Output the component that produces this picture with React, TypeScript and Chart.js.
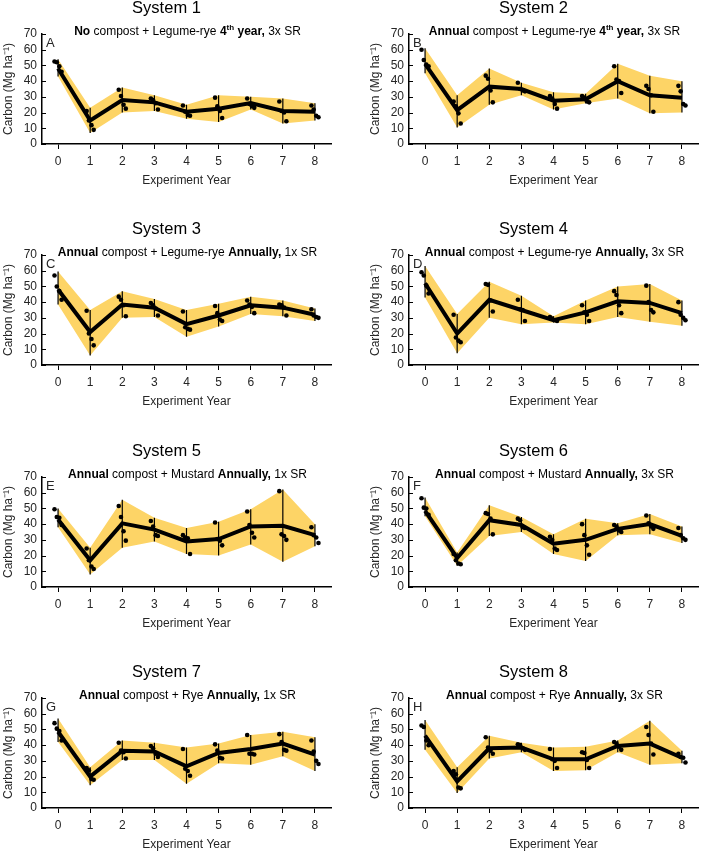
import React, { useEffect, useRef } from "react";
import { Chart, registerables } from "chart.js";

Chart.register(...registerables);

const FONT = "'Liberation Sans', Arial, sans-serif";
const TXT = "#262626";
const BAND = "#FDD466";

const YEARS = [0, 1, 2, 3, 4, 5, 6, 7, 8];
const Y_TICKS = [0, 10, 20, 30, 40, 50, 60, 70];
const JITTER = [-0.11, -0.04, 0.04, 0.11];

// System 1
const MEAN_S1 = [48, 15, 28, 26.5, 20.5, 22.5, 26, 21, 20.5];
const LOW_S1 = [43, 7, 20, 21, 16, 14, 22, 13, 15];
const HIGH_S1 = [54, 23, 36, 31, 25, 31, 30, 29, 26];
const REPS_S1 = [[52.5, 52, 49.5, 46], [21, 15, 12, 9], [34.5, 30.5, 25, 22.5], [29, 28, 26, 22], [24.5, 20.5, 18.5, 18], [29.5, 24, 21, 16.5], [29, 25.5, 24, 23], [27, 21, 20, 14.5], [24.5, 22, 18, 17]];

// System 2
const MEAN_S2 = [51, 21.5, 36.5, 35, 27.5, 28.5, 40, 31, 29.5];
const LOW_S2 = [45, 10.5, 25, 31, 22, 26, 29, 19.5, 20];
const HIGH_S2 = [61, 31, 48, 39, 33, 32, 51, 43.5, 40];
const REPS_S2 = [[60, 53.5, 50.5, 49.5], [27, 24, 19.5, 13], [43.5, 41.5, 34, 26.5], [39, 35, 34, 33.5], [30.5, 29, 25.5, 22.5], [30.5, 29.5, 27, 26.5], [49.5, 41, 40, 32.5], [37, 35, 31, 20.5], [37, 33.5, 25.5, 24.5]];

// System 3
const MEAN_S3 = [48, 21, 38.5, 36.5, 26, 31.5, 38, 36.5, 32];
const LOW_S3 = [38.5, 6, 30, 30.5, 18, 24.5, 32.5, 31, 28];
const HIGH_S3 = [59.5, 35, 47, 42, 35, 39, 43.5, 41, 36];
const REPS_S3 = [[57, 50, 47, 41.5], [34.5, 20, 16.5, 12.5], [43.5, 41.5, 38, 31], [39.5, 38, 36, 31.5], [34, 24, 23, 22.5], [37.5, 33, 29, 28], [41, 38.5, 37, 33], [38.5, 38, 36.5, 31.5], [35.5, 31.5, 30.5, 30]];

// System 4
const MEAN_S4 = [52, 20, 41.5, 35, 28.5, 33.5, 40.5, 39.5, 33];
const LOW_S4 = [43, 7.5, 30, 26, 27, 26, 30.5, 27.5, 25];
const HIGH_S4 = [63, 32.5, 53, 44, 31, 41, 50, 51.5, 41];
const REPS_S4 = [[59, 57, 50.5, 45.5], [32, 17.5, 15.5, 14.5], [51.5, 51, 41, 34], [41.5, 35.5, 35, 28], [30.5, 29.5, 28.5, 28], [38, 33.5, 32, 28], [47, 44.5, 38, 33], [50.5, 40, 35, 33.5], [40, 32, 30, 28.5]];

// System 5
const MEAN_S5 = [43, 17, 40.5, 36.5, 29, 30.5, 38.5, 39, 33];
const LOW_S5 = [38, 8, 25, 29, 21, 20, 27, 16, 26];
const HIGH_S5 = [50, 25, 55.5, 44, 37.5, 41.5, 49.5, 62, 40];
const REPS_S5 = [[49.5, 44.5, 44, 39.5], [24.5, 17, 13, 11.5], [51.5, 44.5, 35.5, 29.5], [42, 38.5, 33, 32.5], [33, 31.5, 31, 21], [41, 30.5, 29.5, 26.5], [48, 39.5, 34.5, 31.5], [61, 33.5, 32.5, 30], [38, 33, 31.5, 28]];

// System 6
const MEAN_S6 = [48.5, 18.5, 42.5, 39.5, 27.5, 30, 37, 40, 32.5];
const LOW_S6 = [45, 13.5, 32.5, 35, 21, 16.5, 33, 33.5, 28];
const HIGH_S6 = [57, 22, 52, 44.5, 33.5, 43.5, 40.5, 46.5, 38.5];
const REPS_S6 = [[56.5, 50.5, 50, 46], [21, 17, 15, 14.5], [47, 46.5, 43.5, 33.5], [43.5, 42.5, 38, 37.5], [32, 30, 24.5, 23.5], [40, 33, 26.5, 20.5], [39.5, 38.5, 36, 35], [45.5, 40.5, 38.5, 37], [37.5, 33, 31, 30]];

// System 7
const MEAN_S7 = [48.5, 20, 36.5, 36, 26.5, 35, 37.5, 41, 34];
const LOW_S7 = [42, 14.5, 30.5, 30.5, 15.5, 28.5, 27.5, 33, 23.5];
const HIGH_S7 = [57, 26, 43, 41.5, 38.5, 41, 46.5, 48.5, 45];
const REPS_S7 = [[54, 50.5, 49, 43], [25.5, 24, 18.5, 18], [41.5, 36.5, 35.5, 31.5], [39.5, 38, 34.5, 32.5], [37.5, 25, 23.5, 20.5], [40.5, 36.5, 32, 31.5], [46.5, 34.5, 34.5, 34], [47, 42, 37, 36.5], [43, 36, 30, 28]];

// System 8
const MEAN_S8 = [46, 17, 38, 38.5, 31, 31, 39.5, 41, 32];
const LOW_S8 = [37, 9.5, 31.5, 35.5, 23.5, 24, 35.5, 27.5, 28.5];
const HIGH_S8 = [56, 26, 46, 41.5, 38.5, 39, 43, 55.5, 36.5];
const REPS_S8 = [[52.5, 51.5, 43, 40], [23.5, 21.5, 13, 12.5], [45, 38.5, 36.5, 34.5], [40.5, 40, 38, 37], [37.5, 31, 30, 25.5], [35.5, 35, 30.5, 25.5], [42, 41, 39, 37], [51.5, 46.5, 41, 34], [34.5, 32.5, 32, 29]];

const TITLES = ["System 1", "System 2", "System 3", "System 4", "System 5", "System 6", "System 7", "System 8"];
const LETTERS = ["A", "B", "C", "D", "E", "F", "G", "H"];

type Seg = { t: string; b?: boolean; sup?: boolean };
const SUB_S1: Seg[] = [{ t: "No", b: true }, { t: " compost + Legume-rye " }, { t: "4", b: true }, { t: "th", b: true, sup: true }, { t: " year,", b: true }, { t: " 3x SR" }];
const SUB_S2: Seg[] = [{ t: "Annual", b: true }, { t: " compost + Legume-rye " }, { t: "4", b: true }, { t: "th", b: true, sup: true }, { t: " year,", b: true }, { t: " 3x SR" }];
const SUB_S3: Seg[] = [{ t: "Annual", b: true }, { t: " compost + Legume-rye " }, { t: "Annually,", b: true }, { t: " 1x SR" }];
const SUB_S4: Seg[] = [{ t: "Annual", b: true }, { t: " compost + Legume-rye " }, { t: "Annually,", b: true }, { t: " 3x SR" }];
const SUB_S5: Seg[] = [{ t: "Annual", b: true }, { t: " compost + Mustard " }, { t: "Annually,", b: true }, { t: " 1x SR" }];
const SUB_S6: Seg[] = [{ t: "Annual", b: true }, { t: " compost + Mustard " }, { t: "Annually,", b: true }, { t: " 3x SR" }];
const SUB_S7: Seg[] = [{ t: "Annual", b: true }, { t: " compost + Rye " }, { t: "Annually,", b: true }, { t: " 1x SR" }];
const SUB_S8: Seg[] = [{ t: "Annual", b: true }, { t: " compost + Rye " }, { t: "Annually,", b: true }, { t: " 3x SR" }];

const SYSTEMS = [
  { mean: MEAN_S1, lo: LOW_S1, hi: HIGH_S1, reps: REPS_S1, sub: SUB_S1 },
  { mean: MEAN_S2, lo: LOW_S2, hi: HIGH_S2, reps: REPS_S2, sub: SUB_S2 },
  { mean: MEAN_S3, lo: LOW_S3, hi: HIGH_S3, reps: REPS_S3, sub: SUB_S3 },
  { mean: MEAN_S4, lo: LOW_S4, hi: HIGH_S4, reps: REPS_S4, sub: SUB_S4 },
  { mean: MEAN_S5, lo: LOW_S5, hi: HIGH_S5, reps: REPS_S5, sub: SUB_S5 },
  { mean: MEAN_S6, lo: LOW_S6, hi: HIGH_S6, reps: REPS_S6, sub: SUB_S6 },
  { mean: MEAN_S7, lo: LOW_S7, hi: HIGH_S7, reps: REPS_S7, sub: SUB_S7 },
  { mean: MEAN_S8, lo: LOW_S8, hi: HIGH_S8, reps: REPS_S8, sub: SUB_S8 },
];

// layout
const PLOT_TOPS = [34, 255, 477, 698];
const COL_LEFT = [0, 367];
const PAD_TOP = 34;
const CW = 335;
const CH = 188;
const Y_AXIS_W = 42;

const inwardTicks = {
  id: "inwardTicks",
  afterDatasetsDraw(chart: any) {
    const { ctx, scales, chartArea } = chart;
    const y = scales.y;
    ctx.save();
    ctx.strokeStyle = "#000";
    ctx.lineWidth = 1;
    Y_TICKS.forEach((v) => {
      const py = Math.round(y.getPixelForValue(v)) + 0.5;
      ctx.beginPath();
      ctx.moveTo(chartArea.left, py);
      ctx.lineTo(chartArea.left + 4, py);
      ctx.stroke();
    });
    ctx.restore();
  },
};

function Panel({ idx }: { idx: number }) {
  const ref = useRef<HTMLCanvasElement>(null);
  const s = SYSTEMS[idx];
  const row = Math.floor(idx / 2);
  const col = idx % 2;

  useEffect(() => {
    if (!ref.current) return;
    const errData: any[] = [];
    YEARS.forEach((yr, i) => {
      errData.push({ x: yr, y: s.lo[i] }, { x: yr, y: s.hi[i] }, { x: yr, y: null });
    });
    const dots: any[] = [];
    YEARS.forEach((yr, i) => s.reps[i].forEach((v, j) => dots.push({ x: yr + JITTER[j], y: v })));
    const chart = new Chart(ref.current, {
      type: "line",
      data: {
        datasets: [
          { data: YEARS.map((x, i) => ({ x, y: s.lo[i] })), borderWidth: 0, borderColor: "rgba(0,0,0,0)", pointRadius: 0, fill: false, order: 5 },
          { data: YEARS.map((x, i) => ({ x, y: s.hi[i] })), borderWidth: 0, borderColor: "rgba(0,0,0,0)", pointRadius: 0, fill: "-1", backgroundColor: BAND, order: 4 },
          { data: errData, borderColor: "#000", borderWidth: 1.2, pointRadius: 0, spanGaps: false, fill: false, order: 3 },
          { data: YEARS.map((x, i) => ({ x, y: s.mean[i] })), borderColor: "#000", borderWidth: 4, pointRadius: 0, fill: false, order: 2 },
          { data: dots, showLine: false, pointRadius: 2.3, pointBackgroundColor: "#000", pointBorderWidth: 0, fill: false, order: 1 },
        ],
      } as any,
      options: {
        responsive: false,
        animation: false,
        layout: { padding: { top: PAD_TOP, right: 2, left: 0, bottom: 0 } },
        plugins: { legend: { display: false }, tooltip: { enabled: false } },
        scales: {
          x: {
            type: "linear",
            min: -0.5,
            max: 8.5,
            afterBuildTicks: (sc: any) => { sc.ticks = YEARS.map((v) => ({ value: v })); },
            afterFit: (sc: any) => { sc.height = CH - PAD_TOP - 110; },
            ticks: { color: TXT, font: { size: 12, family: FONT }, padding: 5, maxRotation: 0, autoSkip: false },
            grid: { display: true, drawOnChartArea: false, drawTicks: true, tickLength: 5, color: "#000", tickColor: "#000", lineWidth: 1 },
            border: { display: true, color: "#000", width: 1.5 },
            title: { display: true, text: "Experiment Year", color: TXT, font: { size: 12, family: FONT }, padding: { top: 0, bottom: 0 } },
          },
          y: {
            min: 0,
            max: 70,
            afterBuildTicks: (sc: any) => { sc.ticks = Y_TICKS.map((v) => ({ value: v })); },
            afterFit: (sc: any) => { sc.width = Y_AXIS_W; },
            ticks: { color: TXT, font: { size: 12, family: FONT }, padding: 5, autoSkip: false },
            grid: { display: false, drawTicks: false },
            border: { display: true, color: "#000", width: 1.5 },
            title: { display: true, text: "Carbon (Mg ha\u207B\u00B9)", color: TXT, font: { size: 12, family: FONT }, padding: { top: 1, bottom: 0 } },
          },
        },
      } as any,
      plugins: [inwardTicks],
    });
    return () => chart.destroy();
  }, [idx]);

  const top = PLOT_TOPS[row] - PAD_TOP;
  const left = COL_LEFT[col];
  return (
    <div style={{ position: "absolute", left, top, width: CW, height: CH }}>
      <canvas ref={ref} width={CW} height={CH} style={{ position: "absolute", left: 0, top: 0, width: CW, height: CH }} />
      <div style={{ position: "absolute", left: 0, top: -3, width: 333, textAlign: "center", fontSize: 16.5, lineHeight: "20px", color: "#000", whiteSpace: "nowrap" }}>
        {TITLES[idx]}
      </div>
      <div style={{ position: "absolute", left: Y_AXIS_W, top: 23, width: 291, textAlign: "center", fontSize: 12, lineHeight: "16px", color: "#000", whiteSpace: "nowrap" }}>
        {s.sub.map((seg, k) =>
          seg.sup ? (
            <sup key={k} style={{ fontWeight: seg.b ? "bold" : "normal", fontSize: 8, lineHeight: 0 }}>{seg.t}</sup>
          ) : (
            <span key={k} style={{ fontWeight: seg.b ? "bold" : "normal", whiteSpace: "pre" }}>{seg.t}</span>
          )
        )}
      </div>
      <div style={{ position: "absolute", left: 46, top: PAD_TOP + 1, fontSize: 13, lineHeight: "16px", color: TXT }}>
        {LETTERS[idx]}
      </div>
    </div>
  );
}

export default function App() {
  return (
    <div style={{ position: "absolute", left: 0, top: 0, width: 702, height: 851, overflow: "hidden", background: "#fff", fontFamily: FONT }}>
      {SYSTEMS.map((_, i) => (
        <Panel key={i} idx={i} />
      ))}
    </div>
  );
}
